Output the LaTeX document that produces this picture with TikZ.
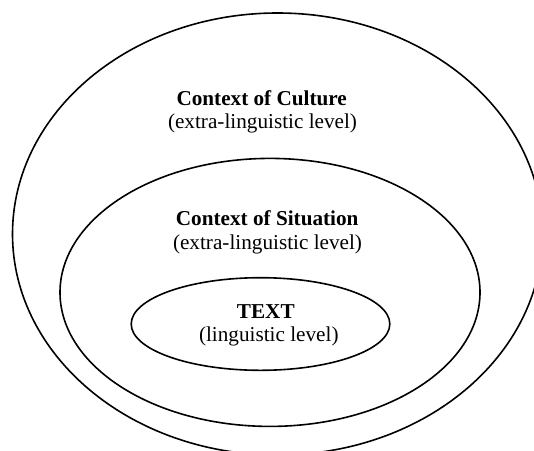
\documentclass[tikz,border=0pt]{standalone}
\usepackage{fontspec}
\setmainfont{Liberation Serif}
\begin{document}
\begin{tikzpicture}[x=1pt,y=-1pt,
  ring/.style={draw=black,line width=1.6pt},
  title/.style={anchor=base,inner sep=0pt,font=\fontsize{21.2}{25}\selectfont\bfseries},
  sub/.style={anchor=base,inner sep=0pt,font=\fontsize{21.2}{25}\selectfont}]
  \useasboundingbox (0,0) rectangle (534,450);
  \clip (0,0) rectangle (534,450);
  % nested levels of context
  \draw[ring] (277.5,234) ellipse [x radius=265pt, y radius=221pt];
  \draw[ring] (270,292.4) ellipse [x radius=210pt, y radius=134pt];
  \draw[ring] (260.5,324) ellipse [x radius=129.3pt, y radius=46.3pt];
  % labels
  \node[title] (culture) at (261.7,105.7) {Context of Culture};
  \node[sub] (culturesub) at (262.5,128.8) {(extra-linguistic level)};
  \node[title] (situation) at (267.2,225) {Context of Situation};
  \node[sub] (situationsub) at (267.5,249) {(extra-linguistic level)};
  \node[title] (text) at (265.8,318.3) {TEXT};
  \node[sub] (textsub) at (268.8,341.5) {(linguistic level)};
\end{tikzpicture}
\end{document}
